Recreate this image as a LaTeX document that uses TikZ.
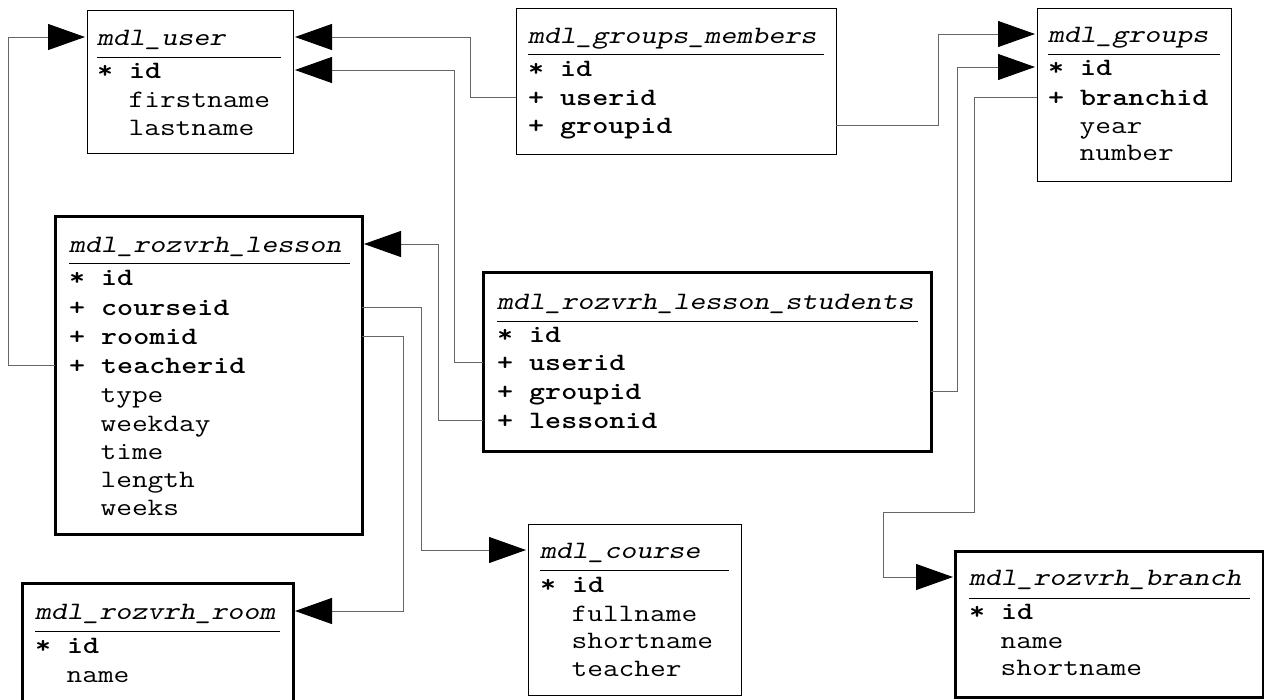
\documentclass[tikz,border=0pt]{standalone}
\usepackage{graphicx}
\usetikzlibrary{arrows.meta}
\newcommand{\wide}[1]{\scalebox{1.22}[1]{#1}}

\begin{document}
\begin{tikzpicture}[x=1pt,y=-1pt,
    tbl/.style={draw,line width=1pt,anchor=north west,inner sep=0pt,outer sep=0pt},
    heavy/.style={tbl,line width=3pt},
    cell/.style={anchor=base west,inner sep=0pt,text height=16pt,text depth=0pt,
      font=\fontsize{25}{28}\selectfont\ttfamily},
    key/.style={cell,font=\fontsize{25}{28}\selectfont\ttfamily\bfseries},
    hed/.style={cell,font=\fontsize{25}{28}\selectfont\ttfamily\slshape},
    link/.style={draw=black!60,line width=1pt,shorten >=2pt,
      -{Triangle[length=37pt,width=26pt,black]}}]
\useasboundingbox (0,0) rectangle (1264,699);

% mdl_user
\node[tbl,minimum width=206pt,minimum height=143pt] (user) at (87,10) {};
\node[hed] (user-t) at (97,45) {\wide{mdl\_user}};
\draw (97,57) -- (281,57);
\node[key] (user-id) at (97,78) {\wide{* id}};
\foreach \n/\y in {firstname/107,lastname/135}
  \node[cell] (user-\n) at (97,\y) {\wide{\hphantom{+ }\n}};

% mdl_groups_members
\node[tbl,minimum width=320pt,minimum height=146pt] (gm) at (516,8) {};
\node[hed] (gm-t) at (528,43) {\wide{mdl\_groups\_members}};
\draw (528,54) -- (824,54);
\node[key] (gm-id) at (528,76) {\wide{* id}};
\foreach \n/\y in {userid/105,groupid/133}
  \node[key] (gm-\n) at (528,\y) {\wide{+ \n}};

% mdl_groups
\node[tbl,minimum width=194pt,minimum height=173pt] (groups) at (1037,8) {};
\node[hed] (groups-t) at (1048,42) {\wide{mdl\_groups}};
\draw (1048,54) -- (1220,54);
\node[key] (groups-id) at (1048,75) {\wide{* id}};
\node[key] (groups-branchid) at (1048,105) {\wide{+ branchid}};
\foreach \n/\y in {year/133,number/160}
  \node[cell] (groups-\n) at (1048,\y) {\wide{\hphantom{+ }\n}};

% mdl_rozvrh_lesson
\node[heavy,minimum width=307pt,minimum height=318pt] (lesson) at (55,216) {};
\node[hed] (lesson-t) at (69,252) {\wide{mdl\_rozvrh\_lesson}};
\draw (69,263) -- (350,263);
\node[key] (lesson-id) at (69,285) {\wide{* id}};
\foreach \n/\y in {courseid/315,roomid/344,teacherid/373}
  \node[key] (lesson-\n) at (69,\y) {\wide{+ \n}};
\foreach \n/\y in {type/402,weekday/431,time/459,length/487,weeks/515}
  \node[cell] (lesson-\n) at (69,\y) {\wide{\hphantom{+ }\n}};

% mdl_rozvrh_lesson_students
\node[heavy,minimum width=448pt,minimum height=179pt] (ls) at (483,272) {};
\node[hed] (ls-t) at (497,309) {\wide{mdl\_rozvrh\_lesson\_students}};
\draw (497,321) -- (918,321);
\node[key] (ls-id) at (497,342) {\wide{* id}};
\foreach \n/\y in {userid/370,groupid/399,lessonid/428}
  \node[key] (ls-\n) at (497,\y) {\wide{+ \n}};

% mdl_rozvrh_room
\node[heavy,minimum width=271pt,minimum height=130pt] (room) at (22,583) {};
\node[hed] (room-t) at (35,619) {\wide{mdl\_rozvrh\_room}};
\draw (35,631) -- (280,631);
\node[key] (room-id) at (35,653) {\wide{* id}};
\node[cell] (room-name) at (35,682) {\wide{\hphantom{+ }name}};

% mdl_course
\node[tbl,minimum width=213pt,minimum height=171pt] (course) at (528,524) {};
\node[hed] (course-t) at (540,558) {\wide{mdl\_course}};
\draw (540,570) -- (729,570);
\node[key] (course-id) at (540,592) {\wide{* id}};
\foreach \n/\y in {fullname/621,shortname/648,teacher/676}
  \node[cell] (course-\n) at (540,\y) {\wide{\hphantom{+ }\n}};

% mdl_rozvrh_branch
\node[heavy,minimum width=308pt,minimum height=146pt] (branch) at (955,551) {};
\node[hed] (branch-t) at (969,585) {\wide{mdl\_rozvrh\_branch}};
\draw (969,598) -- (1250,598);
\node[key] (branch-id) at (969,619) {\wide{* id}};
\foreach \n/\y in {name/648,shortname/675}
  \node[cell] (branch-\n) at (969,\y) {\wide{\hphantom{+ }\n}};

% references
\draw[link] (lesson-teacherid -| lesson.west) -- ++(-47,0) |- (user-t -| user.west);
\draw[link] (gm-userid -| gm.west) -- ++(-46,0) |- (user-t -| user.east);
\draw[link] (ls-userid -| ls.west) -- ++(-29,0) |- (user-id -| user.east);
\draw[link] (gm-groupid -| gm.east) -- ++(102,0) |- (groups-t -| groups.west);
\draw[link] (ls-groupid -| ls.east) -- ++(26,0) |- (groups-id -| groups.west);
\draw[link] (groups-branchid -| groups.west) -- ++(-63,0) -- ++(0,415)
  -- ++(-91,0) |- (branch-t -| branch.west);
\draw[link] (ls-lessonid -| ls.west) -- ++(-45,0) |- (lesson-t -| lesson.east);
\draw[link] (lesson-courseid -| lesson.east) -- ++(59,0) |- (course-t -| course.west);
\draw[link] (lesson-roomid -| lesson.east) -- ++(41,0) |- (room-t -| room.east);
\end{tikzpicture}
\end{document}
